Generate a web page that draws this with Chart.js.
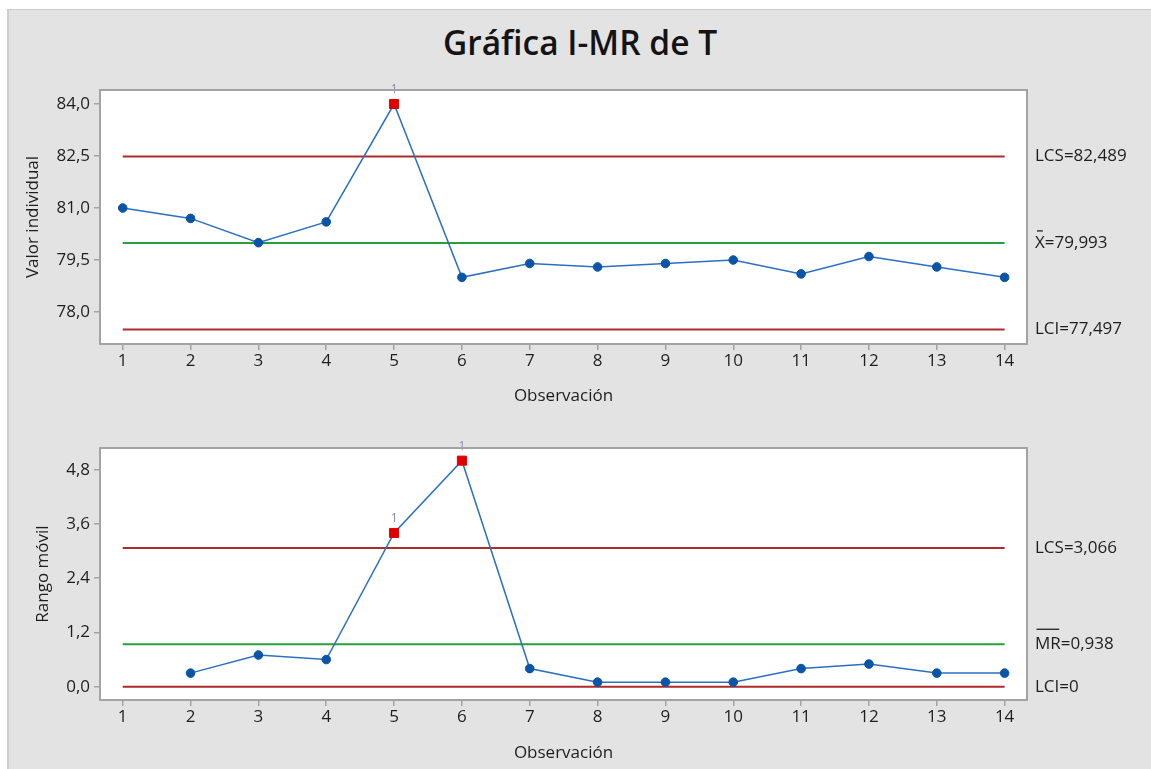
<!DOCTYPE html>
<html lang="es">
<head>
<meta charset="utf-8">
<title>Gráfica I-MR de T</title>
<script src="https://cdn.jsdelivr.net/npm/chart.js@4.4.1/dist/chart.umd.min.js"></script>
<style>
  html, body { margin: 0; padding: 0; background: #ffffff; }
  body { width: 1151px; height: 769px; position: relative; overflow: hidden; font-family: 'Open Sans', 'Noto Sans', sans-serif; }
  #panel { position: absolute; left: 7px; top: 9px; right: 0; bottom: 0; background: #e3e3e3; border-top: 1px solid #cdcdcd; border-left: 2px solid #cdcdcd; }
  #title { position: absolute; left: 0; width: 1160px; top: 20px; text-align: center; font-size: 33.5px; font-weight: 600; color: #141414; line-height: 44px; }
  canvas { position: absolute; left: 0; }
</style>
</head>
<body>
<div id="panel"></div>
<div id="title">Gráfica I-MR de T</div>
<canvas id="iChart" width="1151" height="420" style="top:0px"></canvas>
<canvas id="mrChart" width="1151" height="369" style="top:400px"></canvas>
<script>
// Observations of T
const observations = [1, 2, 3, 4, 5, 6, 7, 8, 9, 10, 11, 12, 13, 14];
const individualValues = [81.0, 80.7, 80.0, 80.6, 84.0, 79.0, 79.4, 79.3, 79.4, 79.5, 79.1, 79.6, 79.3, 79.0];
const movingRanges = [null, 0.3, 0.7, 0.6, 3.4, 5.0, 0.4, 0.1, 0.1, 0.1, 0.4, 0.5, 0.3, 0.3];

// Control limits (upper, center, lower) and their labels
const iLimitValues = [82.489, 79.993, 77.497];
const iLimitLabels = ['LCS=82,489', 'X=79,993', 'LCI=77,497'];
const iLimitOverline = [0, 1, 0];
const mrLimitValues = [3.066, 0.938, 0];
const mrLimitLabels = ['LCS=3,066', 'MR=0,938', 'LCI=0'];
const mrLimitOverline = [0, 2, 0];

// Observations that fail test 1
const iFlagged = [5];
const mrFlagged = [5, 6];

// Axis ticks
const iTickValues = [78.0, 79.5, 81.0, 82.5, 84.0];
const iTickLabels = ['78,0', '79,5', '81,0', '82,5', '84,0'];
const mrTickValues = [0.0, 1.2, 2.4, 3.6, 4.8];
const mrTickLabels = ['0,0', '1,2', '2,4', '3,6', '4,8'];

const FONT = "'Open Sans', 'Noto Sans', sans-serif";
const FONT_SIZE = 17;
const TEXT = '#1e1e1e';
const FRAME = '#a3a3a3';
const LINE_BLUE = '#2a6fc4';
const POINT_BLUE = '#0a55a6';
const FLAG_RED = '#e00000';
const LIMIT_RED = '#b02a2a';
const CENTER_GREEN = '#25a03a';

Chart.defaults.font.family = FONT;

const plotArea = {
  id: 'plotArea',
  beforeDraw(chart) {
    const { ctx, chartArea: a } = chart;
    ctx.save();
    ctx.fillStyle = '#ffffff';
    ctx.fillRect(a.left, a.top, a.right - a.left, a.bottom - a.top);
    ctx.restore();
  },
  afterDraw(chart) {
    const { ctx, chartArea: a } = chart;
    ctx.save();
    ctx.strokeStyle = FRAME;
    ctx.lineWidth = 2;
    ctx.strokeRect(a.left, a.top, a.right - a.left, a.bottom - a.top);
    ctx.restore();
  }
};

const limitLabels = {
  id: 'limitLabels',
  afterDraw(chart, args, opts) {
    const { ctx, chartArea: a } = chart;
    const y = chart.scales.y;
    ctx.save();
    ctx.font = FONT_SIZE + 'px ' + FONT;
    ctx.fillStyle = TEXT;
    ctx.textAlign = 'left';
    ctx.textBaseline = 'middle';
    opts.values.forEach((v, i) => {
      const py = y.getPixelForValue(v);
      const px = a.right + 8;
      ctx.fillText(opts.labels[i], px, py);
      const n = opts.overline[i];
      if (n) {
        const w = ctx.measureText(opts.labels[i].slice(0, n)).width;
        ctx.strokeStyle = TEXT;
        ctx.lineWidth = 1.3;
        ctx.beginPath();
        const inset = n === 1 ? 2 : 1.5;
        const off = n === 1 ? 12 : 15;
        ctx.moveTo(px + inset, py - off);
        ctx.lineTo(px + w - inset, py - off);
        ctx.stroke();
      }
    });
    ctx.restore();
  }
};

const flagLabels = {
  id: 'flagLabels',
  afterDatasetsDraw(chart, args, opts) {
    const { ctx } = chart;
    const meta = chart.getDatasetMeta(0);
    ctx.save();
    ctx.font = '12px ' + FONT;
    ctx.fillStyle = '#8a8cb8';
    ctx.textAlign = 'center';
    ctx.textBaseline = 'middle';
    meta.data.forEach((el, i) => {
      const raw = chart.data.datasets[0].data[i];
      if (opts.flagged.includes(raw.x)) ctx.fillText('1', el.x, el.y - 14);
    });
    ctx.restore();
  }
};

function limitDataset(value, color) {
  return {
    data: [{ x: observations[0], y: value }, { x: observations[observations.length - 1], y: value }],
    borderColor: color,
    borderWidth: 2,
    pointRadius: 0,
    order: 2
  };
}

function buildChart(canvasId, cfg) {
  const H = document.getElementById(canvasId).height;
  const seriesPoints = observations
    .map((o, i) => ({ x: o, y: cfg.values[i] }))
    .filter(p => p.y !== null);
  const isFlag = ctx => cfg.flagged.includes(ctx.raw && ctx.raw.x);
  return new Chart(document.getElementById(canvasId), {
    type: 'line',
    data: {
      datasets: [
        {
          data: seriesPoints,
          borderColor: LINE_BLUE,
          borderWidth: 1.5,
          pointStyle: ctx => isFlag(ctx) ? 'rect' : 'circle',
          pointRadius: ctx => isFlag(ctx) ? 6.4 : 4.3,
          pointBackgroundColor: ctx => isFlag(ctx) ? FLAG_RED : POINT_BLUE,
          pointBorderColor: ctx => isFlag(ctx) ? FLAG_RED : POINT_BLUE,
          pointBorderWidth: 1,
          clip: false,
          order: 0
        },
        limitDataset(cfg.limits[0], LIMIT_RED),
        limitDataset(cfg.limits[1], CENTER_GREEN),
        limitDataset(cfg.limits[2], LIMIT_RED)
      ]
    },
    options: {
      responsive: false,
      animation: false,
      events: [],
      layout: { padding: { top: cfg.top, right: 124, left: 0, bottom: 0 } },
      plugins: {
        legend: { display: false },
        tooltip: { enabled: false },
        limitLabels: { values: cfg.limits, labels: cfg.limitLabels, overline: cfg.overline },
        flagLabels: { flagged: cfg.flagged }
      },
      scales: {
        x: {
          type: 'linear',
          min: 0.665,
          max: 14.33,
          afterBuildTicks: s => { s.ticks = observations.map(v => ({ value: v })); },
          afterFit: s => { s.height = H - cfg.bottom; },
          grid: { drawOnChartArea: false, drawTicks: true, tickLength: 6, color: FRAME, lineWidth: 1.5 },
          border: { display: false },
          ticks: { color: TEXT, font: { size: FONT_SIZE }, padding: 1, maxRotation: 0, autoSkip: false, callback: v => String(v) },
          title: { display: true, text: 'Observación', color: TEXT, font: { size: FONT_SIZE }, padding: { top: 0, bottom: cfg.xTitlePad } }
        },
        y: {
          type: 'linear',
          min: cfg.yMin,
          max: cfg.yMax,
          afterBuildTicks: s => { s.ticks = cfg.tickValues.map(v => ({ value: v })); },
          afterFit: s => { s.width = 100; },
          grid: { drawOnChartArea: false, drawTicks: true, tickLength: 6, color: FRAME, lineWidth: 1.5 },
          border: { display: false },
          ticks: { color: TEXT, font: { size: FONT_SIZE }, padding: 4, callback: (v, i) => cfg.tickLabels[i] },
          title: { display: true, text: cfg.yTitle, color: TEXT, font: { size: FONT_SIZE }, padding: { top: cfg.yTitlePad, bottom: 0 } }
        }
      }
    },
    plugins: [plotArea, limitLabels, flagLabels]
  });
}

buildChart('iChart', {
  values: individualValues,
  flagged: iFlagged,
  limits: iLimitValues,
  limitLabels: iLimitLabels,
  overline: iLimitOverline,
  tickValues: iTickValues,
  tickLabels: iTickLabels,
  yMin: 77.077,
  yMax: 84.404,
  yTitle: 'Valor individual',
  yTitlePad: 23,
  xTitlePad: 14,
  top: 90,
  bottom: 344
});

buildChart('mrChart', {
  values: movingRanges,
  flagged: mrFlagged,
  limits: mrLimitValues,
  limitLabels: mrLimitLabels,
  overline: mrLimitOverline,
  tickValues: mrTickValues,
  tickLabels: mrTickLabels,
  yMin: -0.295,
  yMax: 5.28,
  yTitle: 'Rango móvil',
  yTitlePad: 33,
  xTitlePad: 6,
  top: 48,
  bottom: 300
});
</script>
</body>
</html>
